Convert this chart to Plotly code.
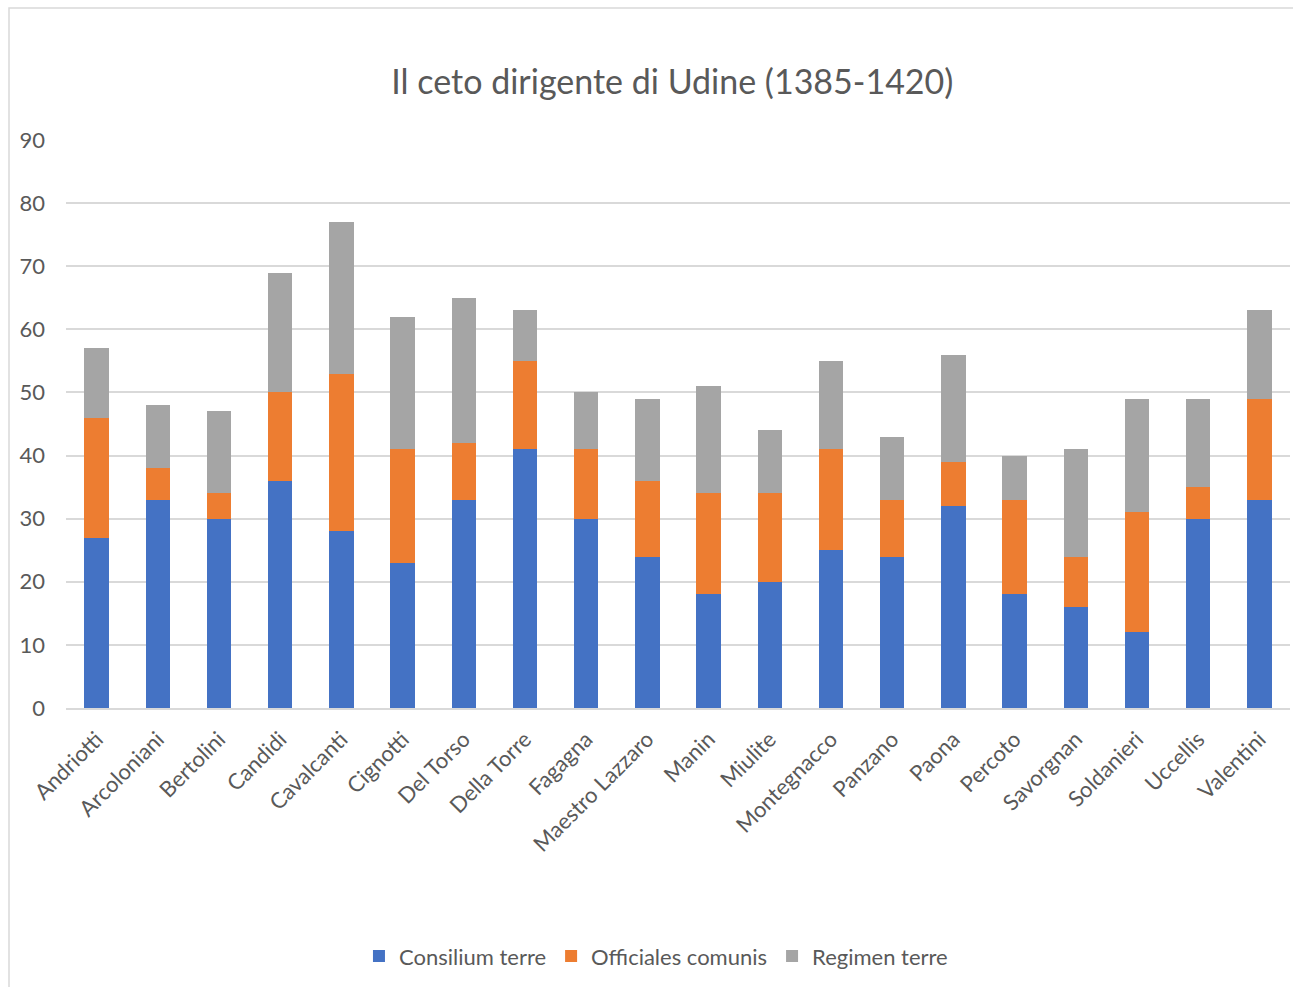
import plotly.graph_objects as go

families = ["Andriotti", "Arcoloniani", "Bertolini", "Candidi", "Cavalcanti", "Cignotti",
            "Del Torso", "Della Torre", "Fagagna", "Maestro Lazzaro", "Manin", "Miulite",
            "Montegnacco", "Panzano", "Paona", "Percoto", "Savorgnan", "Soldanieri",
            "Uccellis", "Valentini"]
consilium = [27, 33, 30, 36, 28, 23, 33, 41, 30, 24, 18, 20, 25, 24, 32, 18, 16, 12, 30, 33]
officiales = [19, 5, 4, 14, 25, 18, 9, 14, 11, 12, 16, 14, 16, 9, 7, 15, 8, 19, 5, 16]
regimen = [11, 10, 13, 19, 24, 21, 23, 8, 9, 13, 17, 10, 14, 10, 17, 7, 17, 18, 14, 14]
series_names = ["Consilium terre", "Officiales comunis", "Regimen terre"]
colors = ["#4472C4", "#ED7D31", "#A5A5A5"]
y_ticks = [0, 10, 20, 30, 40, 50, 60, 70, 80, 90]

FONT = "Lato, 'Open Sans', sans-serif"

fig = go.Figure()
for name, vals, col in zip(series_names, [consilium, officiales, regimen], colors):
    fig.add_trace(go.Bar(x=families, y=vals, name=name, marker=dict(color=col, line=dict(width=0))))

fig.update_layout(
    barmode="stack",
    bargap=0.6,
    width=1293, height=987,
    margin=dict(l=66, r=3, t=140, b=279),
    paper_bgcolor="white", plot_bgcolor="white",
    font=dict(family=FONT, color="#595959", size=22),
    title=dict(text="Il ceto dirigente di Udine (1385-1420)", x=0.52, xanchor="center",
               y=1 - 82 / 987, yanchor="middle", font=dict(size=34, color="#595959", family=FONT)),
    legend=dict(orientation="h", x=0.482, xanchor="center", y=-0.437, yanchor="middle",
                font=dict(size=22, color="#595959"), traceorder="normal", itemwidth=30),
    xaxis=dict(tickangle=-45, showgrid=False, showline=True, linecolor="#D9D9D9", linewidth=1.5,
               ticks="", ticklabelstandoff=8, tickfont=dict(size=22, color="#595959")),
    yaxis=dict(range=[0, 90], tickvals=y_ticks, showgrid=True, gridcolor="#D9D9D9", gridwidth=1.5,
               zeroline=False, showline=False, ticks="", ticklabelstandoff=20,
               tickfont=dict(size=22, color="#595959")),
    shapes=[dict(type="rect", xref="paper", yref="paper",
                 x0=(9 - 66) / 1224, x1=(1310 - 66) / 1224,
                 y0=(708 - 1010) / 568, y1=(708 - 8) / 568,
                 line=dict(color="#D9D9D9", width=1.5), fillcolor="rgba(0,0,0,0)", layer="below")],
)

fig.write_html("out.html")
